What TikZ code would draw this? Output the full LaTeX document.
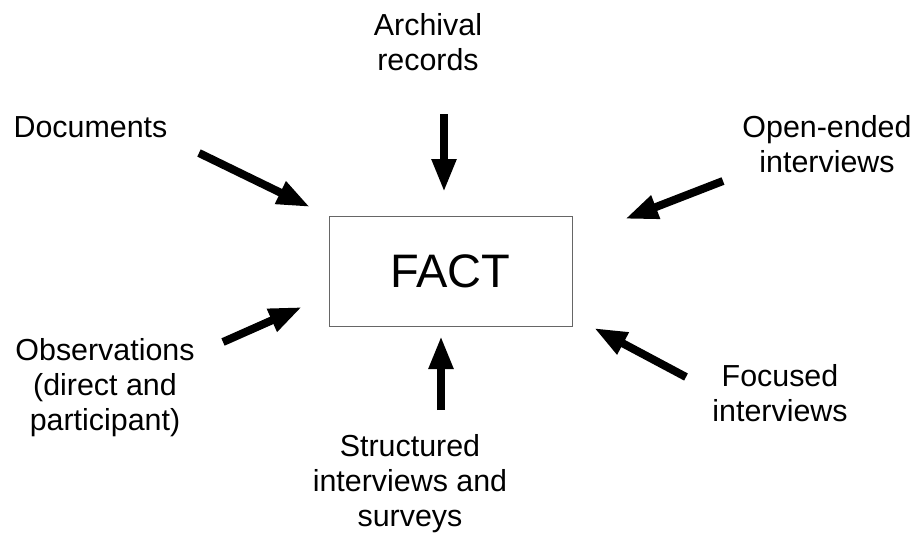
\documentclass[tikz,border=0pt]{standalone}
\usepackage{fontspec}
\setmainfont{Liberation Sans}
\usetikzlibrary{arrows.meta}
\begin{document}
\begin{tikzpicture}[x=1pt,y=-1pt,
  lbl/.style={align=center,anchor=base,inner sep=0pt,font=\fontsize{30.4}{35}\selectfont},
  feed/.style={line width=8pt,-{Triangle[length=33pt,width=23pt]}}]
\useasboundingbox (0,0) rectangle (919,533);
\node[draw=black!60,line width=1pt,minimum width=243pt,minimum height=110pt,inner sep=0pt,
  font=\fontsize{47}{52}\selectfont] (fact) at (450.5,271) {FACT};
\node[lbl] (arch) at (428,70) {Archival\\records};
\node[lbl] (doc) at (90.5,137) {Documents};
\node[lbl] (open) at (827,172) {Open-ended\\interviews};
\node[lbl] (obs) at (105,430) {Observations\\(direct and\\participant)};
\node[lbl] (struct) at (410,526) {Structured\\interviews and\\surveys};
\node[lbl] (focus) at (780,421) {Focused\\interviews};
\coordinate (a1) at (444,114); \coordinate (a2) at (444,192);
\coordinate (d1) at (199,153); \coordinate (d2) at (310,207);
\coordinate (o1) at (723,181); \coordinate (o2) at (625,219);
\coordinate (b1) at (223,342); \coordinate (b2) at (302,307);
\coordinate (s1) at (441,410); \coordinate (s2) at (441,336);
\coordinate (f1) at (686,377); \coordinate (f2) at (594,328);
\draw[feed] (a1) -- (a2);
\draw[feed] (d1) -- (d2);
\draw[feed] (o1) -- (o2);
\draw[feed] (b1) -- (b2);
\draw[feed] (s1) -- (s2);
\draw[feed] (f1) -- (f2);
\end{tikzpicture}
\end{document}
